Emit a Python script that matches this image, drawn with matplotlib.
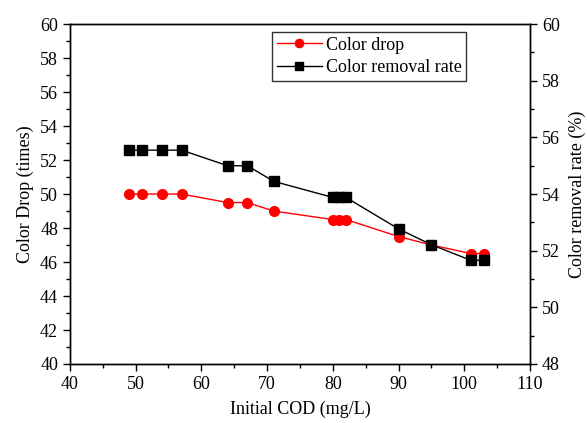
import matplotlib
matplotlib.use("Agg")
import matplotlib.pyplot as plt
from matplotlib.ticker import MultipleLocator

plt.rcParams["font.family"] = ["Liberation Serif", "DejaVu Serif"]

cod = [49, 51, 54, 57, 64, 67, 71, 80, 81, 82, 90, 95, 101, 103]
color_drop = [50, 50, 50, 50, 49.5, 49.5, 49, 48.5, 48.5, 48.5, 47.5, 47, 46.5, 46.5]
removal_rate = [55.55, 55.55, 55.55, 55.55, 55.0, 55.0, 54.45, 53.88, 53.88, 53.88,
                52.77, 52.21, 51.66, 51.66]

fig = plt.figure(figsize=(5.87, 4.23), dpi=100)
ax = fig.add_axes([0.119, 0.1395, 0.784, 0.8035])
ax2 = ax.twinx()

l1, = ax.plot(cod, color_drop, "-o", color="red", lw=1, ms=7, label="Color drop")
l2, = ax2.plot(cod, removal_rate, "-s", color="black", lw=1, ms=7,
               label="Color removal rate")

ax.set_xlim(40, 110)
ax.set_ylim(40, 60)
ax2.set_ylim(48, 60)
ax.xaxis.set_major_locator(MultipleLocator(10))
ax.xaxis.set_minor_locator(MultipleLocator(5))
ax.yaxis.set_major_locator(MultipleLocator(2))
ax.yaxis.set_minor_locator(MultipleLocator(1))
ax2.yaxis.set_major_locator(MultipleLocator(2))
ax2.yaxis.set_minor_locator(MultipleLocator(1))

for a in (ax, ax2):
    a.tick_params(which="major", direction="out", length=5, width=1, labelsize=13)
    a.tick_params(which="minor", direction="out", length=3, width=1)
    for s in a.spines.values():
        s.set_linewidth(1)
ax.tick_params(axis="y", which="both", right=False)

ax.set_xlabel("Initial COD (mg/L)", fontsize=13, labelpad=6)
ax.set_ylabel("Color Drop (times)", fontsize=13, labelpad=4)
ax2.set_ylabel("Color removal rate (%)", fontsize=13, labelpad=6)

leg = ax.legend(handles=[l1, l2], loc="upper left", bbox_to_anchor=(0.44, 0.976),
                fontsize=13, frameon=True, fancybox=False, edgecolor="black",
                borderpad=0.25, labelspacing=0.3, handlelength=2.5, handletextpad=0.2,
                borderaxespad=0, markerscale=0.85)
leg.get_frame().set_linewidth(1)

fig.savefig("out.png", dpi=100)
